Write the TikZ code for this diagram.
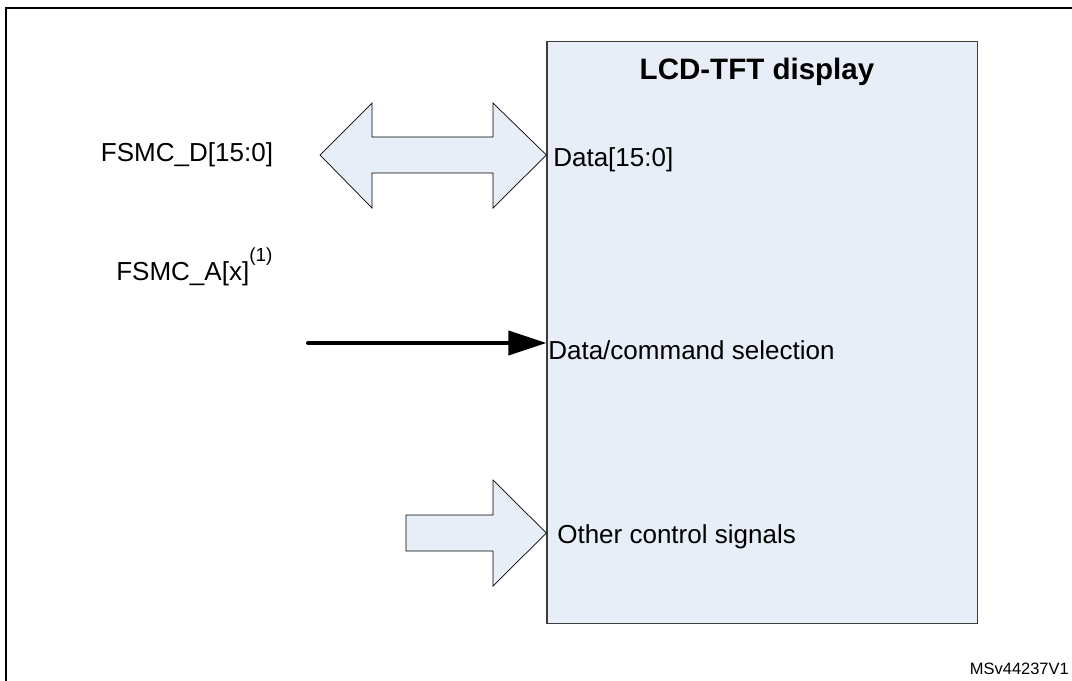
\documentclass[tikz,border=0pt]{standalone}
\usepackage{fontspec}
\setmainfont{Liberation Sans}
\definecolor{lcdfill}{RGB}{231,238,247}
\definecolor{lcdedge}{RGB}{60,60,60}
\usetikzlibrary{arrows.meta,positioning,calc}

\begin{document}
\begin{tikzpicture}[x=0.025cm,y=-0.025cm,
  lbl/.style={font=\fontsize{18.5}{22}\selectfont,inner sep=0pt},
  fatarrow/.style={draw=black,fill=lcdfill,line width=0.5pt,line join=miter},
  sigline/.style={line width=2.8pt,line cap=round,-{Triangle[length=0.95cm,width=0.6cm]}}]
  \useasboundingbox (0,0) rectangle (1072,680);
  \clip (0,0) rectangle (1072,680);
  % outer frame
  \draw[line width=1.8pt] (6,700) -- (6,8) -- (1090,8);
  % display block
  \node[draw=lcdedge,fill=lcdfill,line width=0.8pt,minimum width=10.75cm,minimum height=14.525cm,inner sep=0pt] (lcd) at (762,332.5) {};
  \node[font=\fontsize{21}{25}\selectfont\bfseries] (title) at (757,72) {LCD-TFT display};
  \node[lbl,anchor=west] (data) at (553,160) {Data[15:0]};
  \node[lbl,anchor=west] (dcsel) at (548,350) {Data/command selection};
  \node[lbl,anchor=west] (ctrl) at (557,537) {Other control signals};
  % left side signals
  \node[lbl] (fsmcd) at (187,155) {FSMC\_D[15:0]};
  \node[lbl,anchor=west] (fsmca) at (116,267) {FSMC\_A[x]\raisebox{0.75em}{\fontsize{13.5}{15}\selectfont(1)}};
  % data bus
  \draw[fatarrow] (320,155) -- (372,103) -- (372,137) -- (493,137) -- (493,103) -- (lcd.west |- 0,155)
    -- (493,208) -- (493,173) -- (372,173) -- (372,208) -- cycle;
  % data/command line
  \coordinate (selsrc) at (308,343);
  \draw[sigline] (selsrc) -- (selsrc -| lcd.west);
  % control bus
  \draw[fatarrow] (406,515) -- (493,515) -- (493,480) -- (lcd.west |- 0,533) -- (493,586)
    -- (493,551) -- (406,551) -- cycle;
  \node[font=\fontsize{11.7}{14}\selectfont,anchor=east,inner sep=0pt] (ref) at (1069,669) {MSv44237V1};
\end{tikzpicture}
\end{document}
